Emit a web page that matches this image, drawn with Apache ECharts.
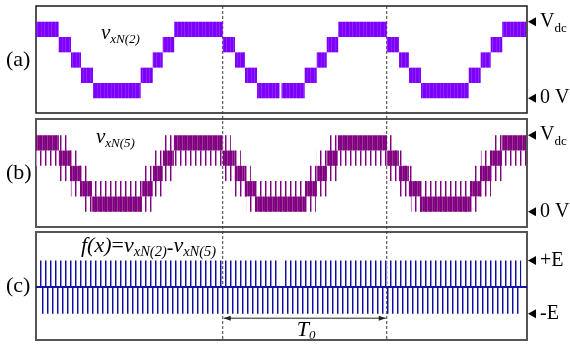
<!DOCTYPE html>
<html>
<head>
<meta charset="utf-8">
<script src="https://cdn.jsdelivr.net/npm/echarts@6/dist/echarts.min.js"></script>
<style>
  html, body { margin: 0; padding: 0; background: #fff; }
  #chart { width: 570px; height: 346px; }
</style>
</head>
<body>
<div id="chart"></div>
<script>
// Time axis in ms; fundamental period T0 = 20 ms.
const timeRange = [0, 59.9];
const periodMarks = [22.78, 42.79];          // interval marked as T0

// v_xN(2): switching instants and the band occupied in between
// (band k = toggling between level k and k+1, level 5 = Vdc, level 0 = 0 V)
const vxN2Edges = [0, 2.77, 4.27, 5.49, 6.95, 12.77, 14.24, 15.46, 16.86,
  22.78, 24.28, 25.50, 26.96, 29.71, 29.95, 32.78, 34.25, 35.47, 36.87,
  42.79, 44.29, 45.51, 46.97, 52.79, 54.25, 55.47, 56.88, 59.78];
const vxN2Bands = [4, 3, 2, 1, 0, 1, 2, 3, 4,
  3, 2, 1, 0, null, 0, 1, 2, 3, 4,
  3, 2, 1, 0, 1, 2, 3, 4];

// v_xN(5): densely switched bands
const vxN5Edges = [0, 2.79, 4.26, 5.48, 6.82, 12.92, 14.26, 15.48, 16.82,
  22.79, 24.25, 25.47, 26.82, 32.92, 34.26, 35.48, 36.82,
  42.81, 44.27, 45.49, 46.84, 52.94, 54.28, 55.50, 56.84, 59.78];
const vxN5Bands = [4, 3, 2, 1, 0, 1, 2, 3, 4,
  3, 2, 1, 0, 1, 2, 3, 4,
  3, 2, 1, 0, 1, 2, 3, 4];

// v_xN(5): narrow pulses reaching into neighbouring bands
const vxN5PulseStart = [2.79, 15.60, 22.79, 35.60, 42.81, 55.62,
  0, 14.26, 34.26, 54.28,
  2.79, 13.29, 22.79, 33.28, 42.81, 53.30,
  4.26, 24.25, 44.27,
  5.72, 25.72, 45.74];
const vxN5PulseEnd = [3.77, 16.82, 23.77, 36.82, 43.79, 56.84,
  4.99, 24.99, 45.01, 59.78,
  6.21, 16.82, 26.21, 36.82, 46.23, 56.84,
  15.48, 35.48, 55.50,
  14.14, 34.14, 54.16];
const vxN5PulseBand = [4, 4, 4, 4, 4, 4,
  3, 3, 3, 3,
  2, 2, 2, 2, 2, 2,
  1, 1, 1,
  0, 0, 0];

// f(x) = v_xN(2) - v_xN(5): pulse trains to +E and -E (in units of E)
const fPosStart = [0.49, 30.26];
const fPosEnd = [29.52, 59.20];
const fNegStart = [0.49];
const fNegEnd = [59.20];

// Level annotations on the right-hand side
const levelLabels = [
  { panel: 0, level: 5, parts: [['V', 20, false, 0], ['dc', 13, false, 4.5]] },
  { panel: 0, level: 0, parts: [['0 V', 20, false, 0]] },
  { panel: 1, level: 5, parts: [['V', 20, false, 0], ['dc', 13, false, 4.5]] },
  { panel: 1, level: 0, parts: [['0 V', 20, false, 0]] },
  { panel: 2, level: 1, parts: [['+E', 20, false, 0]] },
  { panel: 2, level: -1, parts: [['-E', 20, false, 0]] }
];

// ---- fill patterns: vertical stripes at the carrier pitch ----
function stripes(cols) {
  const c = document.createElement('canvas');
  c.width = cols.length; c.height = 2;
  const g = c.getContext('2d');
  cols.forEach((col, i) => { if (col) { g.fillStyle = col; g.fillRect(i, 0, 1, 2); } });
  return { image: c, repeat: 'repeat' };
}
const fills = [
  stripes(['#8000ff', '#7c00f8', '#8e28ff', '#8000ff', '#7c00f8', '#8000ff', '#8a1cff']),
  stripes(['#7e007e', '#800080', '#9c3a9c', '#800080', '#880e88']),
  stripes(['#7e007e', '#c68ac6', null, null, null]),
  stripes(['#10109e', '#8e8ed4', null, null, null]),
  stripes([null, null, '#10109e', '#8e8ed4', null])
];

// [start, end, low level, high level, fill index]
function bandItems(edges, bands, fill) {
  const out = [];
  bands.forEach((b, i) => {
    if (b === null) return;
    out.push([edges[i], edges[i + 1], b, b + 1, fill]);
  });
  return out;
}
const dataA = bandItems(vxN2Edges, vxN2Bands, 0);
const dataB = vxN5PulseStart.map((s, i) => [s, vxN5PulseEnd[i], vxN5PulseBand[i], vxN5PulseBand[i] + 1, 2])
  .concat(bandItems(vxN5Edges, vxN5Bands, 1));
const dataC = fPosStart.map((s, i) => [s, fPosEnd[i], 0, 1, 3])
  .concat(fNegStart.map((s, i) => [s, fNegEnd[i], -1, 0, 4]));

function renderBlock(params, api) {
  const p0 = api.coord([api.value(0), api.value(3)]);
  const p1 = api.coord([api.value(1), api.value(2)]);
  return {
    type: 'rect',
    shape: { x: p0[0], y: p0[1], width: p1[0] - p0[0], height: p1[1] - p0[1] },
    style: { fill: fills[api.value(4)] }
  };
}

const panels = [
  { top: 6, height: 107, min: -0.96, max: 6.025, border: '#1a1a1a', bw: 1.5 },
  { top: 119, height: 108, min: -1.0, max: 6.06, border: '#555', bw: 2 },
  { top: 232, height: 108, min: -1.99, max: 2.07, border: '#555', bw: 2 }
];

const chart = echarts.init(document.getElementById('chart'), null, { renderer: 'canvas' });
chart.setOption({
  animation: false,
  backgroundColor: '#fff',
  grid: panels.map(p => ({
    left: 36, right: 43, top: p.top, height: p.height,
    show: true, borderColor: p.border, borderWidth: p.bw, backgroundColor: 'transparent'
  })),
  xAxis: panels.map((p, i) => ({
    type: 'value', gridIndex: i, min: timeRange[0], max: timeRange[1], show: false
  })),
  yAxis: panels.map((p, i) => ({
    type: 'value', gridIndex: i, min: p.min, max: p.max, show: false
  })),
  series: [
    { type: 'custom', xAxisIndex: 0, yAxisIndex: 0, data: dataA, renderItem: renderBlock, silent: true },
    { type: 'custom', xAxisIndex: 1, yAxisIndex: 1, data: dataB, renderItem: renderBlock, silent: true },
    {
      type: 'custom', xAxisIndex: 2, yAxisIndex: 2, data: dataC, renderItem: renderBlock, silent: true,
      markLine: {
        silent: true, symbol: 'none', label: { show: false },
        lineStyle: { color: '#1414a0', width: 2, type: 'solid' },
        data: [{ yAxis: 0 }]
      }
    }
  ]
});

// ---- annotations ----
const measure = document.createElement('canvas').getContext('2d');
const SERIF = '"Liberation Serif", "Times New Roman", serif';
// parts: [text, size, italic, baseline shift]
function textRun(x, baseline, parts) {
  const out = [];
  let cx = x;
  parts.forEach(([t, size, italic, dy]) => {
    const font = (italic ? 'italic ' : '') + size + 'px ' + SERIF;
    measure.font = font;
    out.push({
      type: 'text', x: cx, y: baseline + dy - 0.305 * size, silent: true,
      style: { text: t, font: font, fill: '#000', textAlign: 'left', verticalAlign: 'middle' }
    });
    cx += measure.measureText(t).width;
  });
  return out;
}

const g = [];
// panel letters
g.push(...textRun(6, 67, [['(a)', 22, false, 0]]));
g.push(...textRun(6, 180, [['(b)', 22, false, 0]]));
g.push(...textRun(6, 293, [['(c)', 22, false, 0]]));
// waveform names
g.push(...textRun(101, 39.5, [['v', 21, true, 0], ['xN(2)', 13, true, 4]]));
g.push(...textRun(96, 143.5, [['v', 21, true, 0], ['xN(5)', 13, true, 4]]));
g.push(...textRun(81, 252.5, [['f(x)', 22, true, 0], ['=', 22, false, 0], ['v', 22, true, 0],
  ['xN(2)', 14.5, true, 4], ['-', 20, false, 2], ['v', 22, true, 0], ['xN(5)', 14.5, true, 4]]));

// level markers on the right edge
levelLabels.forEach(l => {
  const p = chart.convertToPixel({ xAxisIndex: l.panel, yAxisIndex: l.panel }, [timeRange[1], l.level]);
  const x = p[0], y = p[1];
  g.push({ type: 'polygon', silent: true, shape: { points: [[x + 1, y], [x + 9, y - 4.5], [x + 9, y + 4.5]] },
    style: { fill: '#000' } });
  g.push(...textRun(x + 13, y + 6, l.parts.map(q => [q[0], q[1], q[2], q[3]])));
});

// period markers across all panels
const yTop = chart.convertToPixel({ yAxisIndex: 0 }, panels[0].max);
const yBot = chart.convertToPixel({ yAxisIndex: 2 }, panels[2].min);
const xs = periodMarks.map(v => chart.convertToPixel({ xAxisIndex: 0 }, v));
xs.forEach(x => {
  g.push({ type: 'line', silent: true, shape: { x1: x, y1: yTop, x2: x, y2: yBot },
    style: { stroke: '#3a3a3a', lineWidth: 1, lineDash: [3, 2] } });
});

// T0 dimension arrow
const yArrow = chart.convertToPixel({ yAxisIndex: 2 }, -1.17);
g.push({ type: 'line', silent: true, shape: { x1: xs[0] + 1, y1: yArrow, x2: xs[1] - 1, y2: yArrow },
  style: { stroke: '#222', lineWidth: 1 } });
g.push({ type: 'polygon', silent: true,
  shape: { points: [[xs[0] + 1, yArrow], [xs[0] + 8, yArrow - 2.5], [xs[0] + 8, yArrow + 2.5]] }, style: { fill: '#222' } });
g.push({ type: 'polygon', silent: true,
  shape: { points: [[xs[1] - 1, yArrow], [xs[1] - 8, yArrow - 2.5], [xs[1] - 8, yArrow + 2.5]] }, style: { fill: '#222' } });
g.push(...textRun((xs[0] + xs[1]) / 2 - 8, 336.5, [['T', 22, true, 0], ['0', 13, true, 3.5]]));

chart.setOption({ graphic: g });
</script>
</body>
</html>
